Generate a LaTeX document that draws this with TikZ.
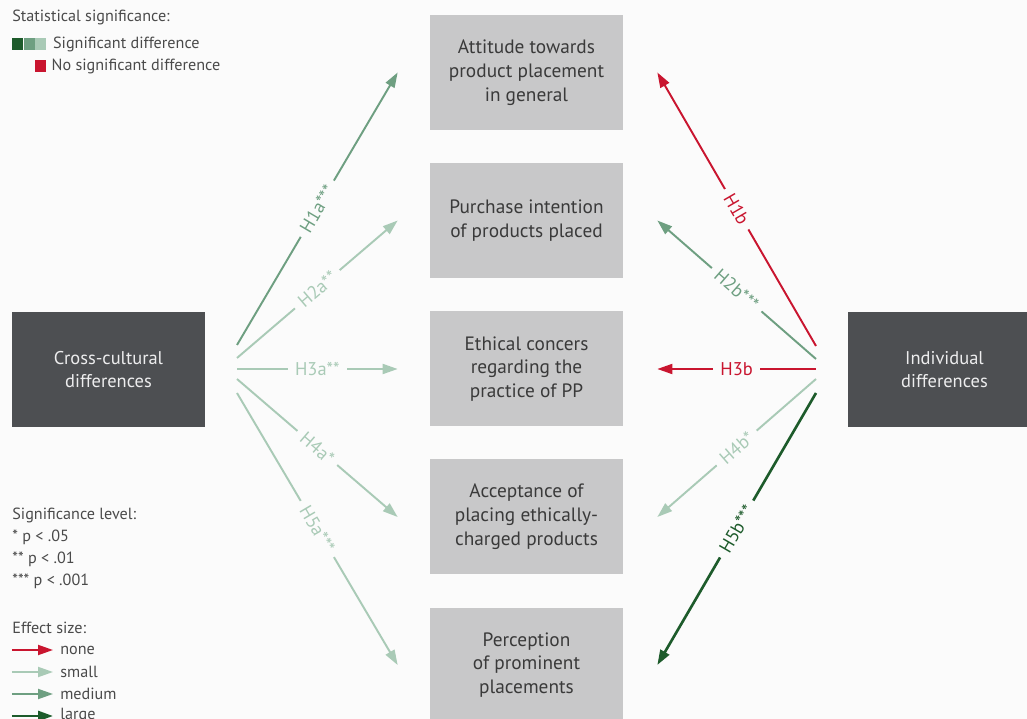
\documentclass[tikz,border=0pt]{standalone}
\usepackage{fontspec}
\setmainfont{PT Sans}
\usetikzlibrary{arrows.meta, positioning}
\definecolor{cbg}{HTML}{FBFBFB}
\definecolor{cbox}{HTML}{C8C8C9}
\definecolor{cdark}{HTML}{4D4F52}
\definecolor{cink}{HTML}{3A3A3A}
\definecolor{clegend}{HTML}{4A4A4A}
\definecolor{cred}{HTML}{C9152F}
\definecolor{clarge}{HTML}{1D5B2B}
\definecolor{cmedium}{HTML}{6E9F81}
\definecolor{csmall}{HTML}{A9CAB6}

\begin{document}
\begin{tikzpicture}[
  font=\fontsize{9.2}{10}\selectfont,
  varbox/.style={fill=cbox, text=cink, align=center, inner sep=2pt,
                 minimum width=38.6mm, minimum height=23mm,
                 font=\fontsize{11}{13.6}\selectfont},
  sidebox/.style={fill=cdark, text=white!90!cdark, align=center, inner sep=2pt,
                  minimum width=38.6mm, minimum height=23mm,
                  font=\fontsize{10.5}{13}\selectfont},
  hyp/.style={-{Triangle[length=3mm,width=2mm]}, line width=1.1pt},
  effnone/.style={hyp, draw=cred},
  effsmall/.style={hyp, draw=csmall},
  effmed/.style={hyp, draw=cmedium},
  efflarge/.style={hyp, draw=clarge, line width=1.5pt},
  hlab/.style={fill=cbg, sloped, inner xsep=1.4mm, inner ysep=0.6mm,
               font=\fontsize{10.5}{11}\selectfont},
  legtxt/.style={text=clegend, anchor=west, inner sep=0pt},
  swatch/.style={minimum width=2.2mm, minimum height=2.4mm, inner sep=0pt}
]
\useasboundingbox (0,0) rectangle (20.54,-14.38);
\fill[cbg] (0,0) rectangle (20.54,-14.38);

% construct boxes
\node[sidebox] (cross)  at (2.17,-7.39)  {Cross-cultural\\differences};
\node[sidebox] (indiv)  at (18.89,-7.39) {Individual\\differences};
\node[varbox]  (attit)  at (10.53,-1.45)  {Attitude towards\\product placement\\in general};
\node[varbox]  (purch)  at (10.53,-4.41)  {Purchase intention\\of products placed};
\node[varbox]  (ethic)  at (10.53,-7.38)  {Ethical concers\\regarding the\\practice of PP};
\node[varbox]  (accept) at (10.53,-10.34) {Acceptance of\\placing ethically-\\charged products};
\node[varbox]  (percep) at (10.53,-13.30) {Perception\\of prominent\\placements};

% arrow ends
\coordinate (cA) at (4.74,-6.90);
\coordinate (cB) at (4.74,-7.16);
\coordinate (cC) at (4.74,-7.38);
\coordinate (cD) at (4.74,-7.58);
\coordinate (cE) at (4.74,-7.86);
\coordinate (iA) at (16.32,-6.92);
\coordinate (iB) at (16.32,-7.18);
\coordinate (iC) at (16.32,-7.38);
\coordinate (iD) at (16.32,-7.58);
\coordinate (iE) at (16.32,-7.86);
\coordinate (attitL)  at ([xshift=-6.4mm]attit.west);
\coordinate (purchL)  at ([xshift=-6.4mm]purch.west);
\coordinate (ethicL)  at ([xshift=-6.4mm]ethic.west);
\coordinate (acceptL) at ([xshift=-6.4mm]accept.west);
\coordinate (percepL) at ([xshift=-6.4mm]percep.west);
\coordinate (attitR)  at ([xshift=6.8mm]attit.east);
\coordinate (purchR)  at ([xshift=6.8mm]purch.east);
\coordinate (ethicR)  at ([xshift=6.8mm]ethic.east);
\coordinate (acceptR) at ([xshift=6.8mm]accept.east);
\coordinate (percepR) at ([xshift=6.8mm]percep.east);

% hypotheses
\draw[effmed]   (cA) -- node[hlab, text=cmedium]{H1a***} (attitL);
\draw[effsmall] (cB) -- node[hlab, text=csmall]{H2a**}   (purchL);
\draw[effsmall] (cC) -- node[hlab, text=csmall]{H3a**}   (ethicL);
\draw[effsmall] (cD) -- node[hlab, text=csmall]{H4a*}    (acceptL);
\draw[effsmall] (cE) -- node[hlab, text=csmall]{H5a***}  (percepL);
\draw[effnone]  (iA) -- node[hlab, text=cred]{H1b}       (attitR);
\draw[effmed]   (iB) -- node[hlab, text=cmedium]{H2b***} (purchR);
\draw[effnone]  (iC) -- node[hlab, text=cred]{H3b}       (ethicR);
\draw[effsmall] (iD) -- node[hlab, text=csmall]{H4b*}    (acceptR);
\draw[efflarge] (iE) -- node[hlab, text=clarge]{H5b***}  (percepR);

% legend
\node[legtxt] (sigttl) at (0.24,-0.34) {Statistical significance:};
\node[swatch, fill=clarge]  (swL) at (0.35,-0.88) {};
\node[swatch, fill=cmedium, right=0pt of swL] (swM) {};
\node[swatch, fill=csmall,  right=0pt of swM] (swS) {};
\node[legtxt, right=1.2mm of swS] (sigyes) {Significant difference};
\node[swatch, fill=cred] (swN) at (0.81,-1.32) {};
\node[legtxt, right=1mm of swN] (signo) {No significant difference};

\node[legtxt] (siglvl) at (0.24,-10.30) {Significance level:};
\node[legtxt] (p05)    at (0.24,-10.74) {* p < .05};
\node[legtxt] (p01)    at (0.24,-11.18) {** p < .01};
\node[legtxt] (p001)   at (0.24,-11.62) {*** p < .001};
\node[legtxt] (effttl) at (0.24,-12.56) {Effect size:};
\node[legtxt] (lnone)  at (1.2,-13.00) {none};
\node[legtxt] (lsmall) at (1.2,-13.44) {small};
\node[legtxt] (lmed)   at (1.2,-13.88) {medium};
\node[legtxt] (llarge) at (1.2,-14.32) {large};
\draw[effnone]  ([xshift=-9.6mm]lnone.west)  -- ([xshift=-1.4mm]lnone.west);
\draw[effsmall] ([xshift=-9.6mm]lsmall.west) -- ([xshift=-1.4mm]lsmall.west);
\draw[effmed]   ([xshift=-9.6mm]lmed.west)   -- ([xshift=-1.4mm]lmed.west);
\draw[efflarge] ([xshift=-9.6mm]llarge.west) -- ([xshift=-1.4mm]llarge.west);
\end{tikzpicture}
\end{document}
